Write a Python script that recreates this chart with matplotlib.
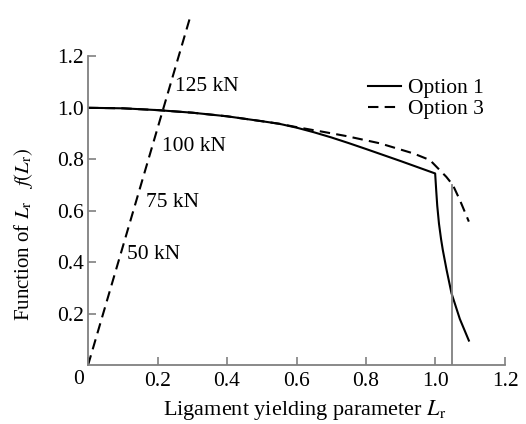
import numpy as np
import matplotlib
matplotlib.use("Agg")
import matplotlib.pyplot as plt

plt.rcParams['font.family'] = ['Liberation Serif', 'DejaVu Serif']
plt.rcParams['mathtext.fontset'] = 'stix'

# Option 1 (solid) assessment curve
lr_opt1 = [0, 0.1, 0.2, 0.3, 0.4, 0.5, 0.55, 0.6, 0.65, 0.7, 0.75, 0.8, 0.9, 0.999,
           1.002, 1.005, 1.01, 1.016, 1.021, 1.032, 1.046, 1.07, 1.096]
f_opt1 = [1.0, 0.998, 0.991, 0.981, 0.967, 0.948, 0.938, 0.923, 0.905, 0.885, 0.863, 0.84, 0.793, 0.745,
          0.68, 0.62, 0.55, 0.49, 0.448, 0.37, 0.28, 0.18, 0.096]

# Option 3 (dashed) assessment curve
lr_opt3 = [0, 0.1, 0.2, 0.3, 0.4, 0.5, 0.55, 0.6, 0.65, 0.7, 0.744, 0.84, 0.936,
           0.984, 1.031, 1.05, 1.07, 1.096]
f_opt3 = [1.0, 0.998, 0.991, 0.981, 0.967, 0.948, 0.938, 0.925, 0.913, 0.901, 0.89, 0.862, 0.823,
          0.797, 0.732, 0.70, 0.642, 0.558]

# load line
load_x = [0, 0.30]
load_y = [0, 1.38]
load_labels = ['50 kN', '75 kN', '100 kN', '125 kN']
label_x = [0.112, 0.167, 0.213, 0.25]
label_y = [0.43, 0.634, 0.848, 1.081]

lr_max = 1.048
lr_max_top = 0.70

fig = plt.figure(figsize=(5.26, 4.24), dpi=100)
ax = fig.add_axes([88/526, 1 - 365.3/424, 417/526, 348.3/424])

gray = '#808080'
fs = 15.5

ax.plot(lr_opt1, f_opt1, color='black', lw=1.5, label='Option 1')
ax.plot(lr_opt3, f_opt3, color='black', lw=1.5, ls='--', dashes=(5, 3), label='Option 3')
ax.plot(load_x, load_y, color='black', lw=1.5, ls='--', dashes=(5, 3))
ax.plot([lr_max, lr_max], [0, lr_max_top], color=gray, lw=1.3)

for t, x, y in zip(load_labels, label_x, label_y):
    ax.text(x, y, t, fontsize=fs, ha='left', va='center')

ax.set_xlim(0, 1.2)
ax.set_ylim(0, 1.3526)
ax.spines['top'].set_visible(False)
ax.spines['right'].set_visible(False)
ax.spines['left'].set_bounds(0, 1.2)
for s in ['left', 'bottom']:
    ax.spines[s].set_color(gray)
    ax.spines[s].set_linewidth(1.3)

ax.set_xticks([0, 0.2, 0.4, 0.6, 0.8, 1.0, 1.2])
ax.set_xticklabels(['', '0.2', '0.4', '0.6', '0.8', '1.0', '1.2'])
ax.set_yticks([0.2, 0.4, 0.6, 0.8, 1.0, 1.2])
ax.set_yticklabels(['0.2', '0.4', '0.6', '0.8', '1.0', '1.2'])
ax.tick_params(direction='in', length=6, width=1.2, color=gray, labelsize=fs, pad=5)
ax.tick_params(axis='y', pad=3)
ax.text(-0.026, -0.057, '0', fontsize=fs, ha='center', va='center')

ax.set_xlabel(r'Ligament yielding parameter $L_\mathrm{r}$', fontsize=16)
ax.xaxis.set_label_coords(0.52, -0.095)
ax.set_ylabel(r'Function of $L_\mathrm{r}$   $f(L_\mathrm{r})$', fontsize=15)
ax.yaxis.set_label_coords(-0.127, 0.375)

ax.legend(loc='upper left', bbox_to_anchor=(368/526, 1 - 78/424), bbox_transform=fig.transFigure,
          frameon=False, fontsize=fs, handlelength=1.55, handletextpad=0.3,
          labelspacing=0.05, borderpad=0, borderaxespad=0)

fig.savefig('out.png', dpi=100)
